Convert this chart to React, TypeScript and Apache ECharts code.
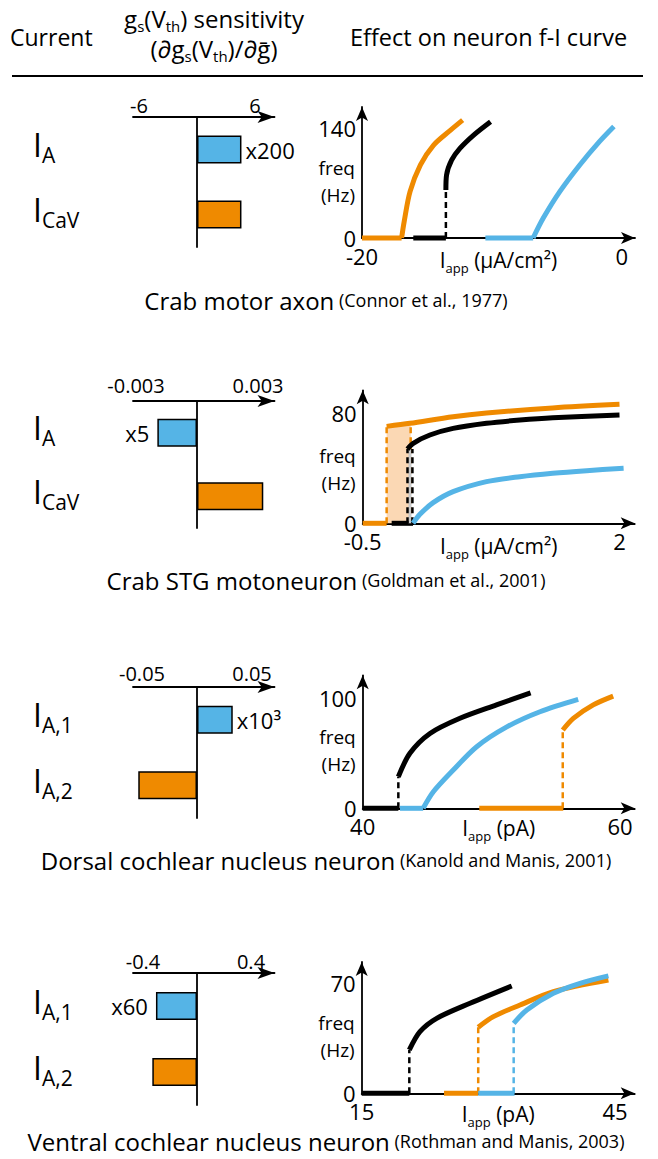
import React, { useEffect, useRef } from 'react';
import * as echarts from 'echarts';

const FONT = '"Open Sans", "Noto Sans", "DejaVu Sans", sans-serif';
const ORANGE = '#EF8A00';
const BLUE = '#55B4E6';
const BLACK = '#000000';
const SHADE = '#FBD8B4';
const GREY = '#C8C8C8';

// ---------- texts ----------
const headerCurrent = 'Current';
const headerEffect = 'Effect on neuron f-I curve';
const panelTitles = ['Crab motor axon', 'Crab STG motoneuron', 'Dorsal cochlear nucleus neuron', 'Ventral cochlear nucleus neuron'];
const panelRefs = ['(Connor et al., 1977)', '(Goldman et al., 2001)', '(Kanold and Manis, 2001)', '(Rothman and Manis, 2003)'];

// ---------- sensitivity bars ----------
const currentSubs = [['A', 'CaV'], ['A', 'CaV'], ['A,1', 'A,2'], ['A,1', 'A,2']];
const sensTicks = [6, 0.003, 0.05, 0.4];
const sensTickLabels = [['-6', '6'], ['-0.003', '0.003'], ['-0.05', '0.05'], ['-0.4', '0.4']];
const sensP1 = [4.6, 4.6];
const sensP2 = [-0.00195, 0.00326];
const sensP3 = [0.0325, -0.0534];
const sensP4 = [-0.304, -0.331];
const sensValues = [sensP1, sensP2, sensP3, sensP4];
const scaleNotes = ['x200', 'x5', 'x10³', 'x60'];

// ---------- f-I axes ----------
const fiXTicks = [[-20, 0], [-0.5, 2], [40, 60], [15, 45]];
const fiYTicks = [140, 80, 100, 70];
const fiXNames = ['(µA/cm²)', '(µA/cm²)', '(pA)', '(pA)'];
const fiYName = ['freq', '(Hz)'];

// ---------- f-I curves ----------
// panel 1: crab motor axon
const p1OrangeFlat = [-20, -16.95];
const p1OrangeCurve = [[-16.95, 0], [-16.75, 21], [-16.3, 59], [-15.5, 93], [-14.5, 118], [-13.2, 137], [-12.25, 150]];
const p1BlackFlat = [-16.05, -13.54];
const p1BlackJump = [-13.54, 61];
const p1BlackCurve = [[-13.54, 61], [-13.49, 80], [-13.1, 99], [-12.46, 114], [-11.4, 131], [-10.1, 148]];
const p1BlueFlat = [-10.5, -6.82];
const p1BlueCurve = [[-6.82, 0], [-6.05, 25], [-4.77, 59], [-3.23, 93], [-1.7, 123], [-0.6, 142]];

// panel 2: crab STG motoneuron
const p2Shade = [[-0.267, 70.5], [-0.033, 72.8]];
const p2OrangeFlat = [-0.5, -0.267];
const p2OrangeJump = [-0.267, 70.5];
const p2OrangeJump2 = [-0.033, 72.8];
const p2OrangeCurve = [[-0.267, 70.5], [-0.04, 72.7], [0.38, 77.5], [0.705, 80.2], [1.35, 83.9], [2.0, 86.5]];
const p2BlackFlat = [-0.218, -0.01];
const p2GreyJump = [-0.04, 54];
const p2BlackJumpA = [-0.064, 54];
const p2BlackJumpB = [-0.016, 54];
const p2BlackCurve = [[-0.064, 54], [-0.008, 58.2], [0.154, 64.2], [0.38, 69], [0.705, 72.7], [1.03, 75.1], [1.35, 76.8], [2.0, 78.8]];
const p2BlueCurve = [[-0.01, 0], [0.057, 6.5], [0.186, 15], [0.38, 23], [0.705, 30.3], [1.03, 33.9], [1.35, 36.4], [1.68, 38.3], [2.04, 40]];

// panel 3: dorsal cochlear nucleus
const p3BlackFlat = [40, 42.77];
const p3BlackJump = [42.77, 28.7];
const p3BlackCurve = [[42.77, 28.7], [43.67, 50], [45.23, 68], [47.56, 81.8], [50.4, 94], [53.05, 105]];
const p3BlueFlat = [42.9, 44.7];
const p3BlueCurve = [[44.7, 0], [45.49, 15], [47.04, 34.8], [48.86, 56], [51.2, 74], [53.78, 87.8], [56.75, 99]];
const p3OrangeFlat = [49.06, 55.59];
const p3OrangeJump = [55.55, 71.2];
const p3OrangeCurve = [[55.55, 71.2], [56.37, 81.8], [57.92, 94], [59.47, 102]];

// panel 4: ventral cochlear nucleus
const p4BlackFlat = [15, 20.64];
const p4BlackJump = [20.64, 27.6];
const p4BlackCurve = [[20.64, 27.6], [21.9, 39.2], [23.88, 47.7], [27.83, 57.3], [32.77, 68.3]];
const p4OrangeFlat = [24.75, 28.8];
const p4OrangeJump = [28.8, 42];
const p4OrangeCurve = [[28.8, 42], [30.6, 48.8], [33.75, 56.2], [37.7, 64.7], [44.22, 72]];
const p4BlueFlat = [28.8, 33.1];
const p4BlueJump = [33.0, 44.5];
const p4BlueCurve = [[33.0, 44.5], [34.55, 53], [37.7, 63.6], [40.86, 70], [44.22, 74.7]];

// ---------- layout (pixels) ----------
const BAR_ZERO_X = 197;
const BAR_LEFT = 133;
const BAR_RIGHT = 274.5;
const ROW_LABEL_X = 33;
const barLayouts = [
  { axisY: 117, bottom: 247, tickPx: 58, labelMargin: 4 },
  { axisY: 401, bottom: 528, tickPx: 61, labelMargin: 8 },
  { axisY: 687, bottom: 818, tickPx: 55, labelMargin: 6 },
  { axisY: 973, bottom: 1105, tickPx: 54, labelMargin: 4 },
];
const fiLayouts = [
  { left: 362, axisY: 238, top: 107, right: 635, xTickPx: 621.7, yTickPx: 128, nameGap: 15, yNameShift: 18 },
  { left: 362.7, axisY: 523.3, top: 390.3, right: 634.7, xTickPx: 619.5, yTickPx: 413.3, nameGap: 16, yNameShift: 25 },
  { left: 362.7, axisY: 808.3, top: 675.3, right: 634.7, xTickPx: 620, yTickPx: 698.3, nameGap: 13, yNameShift: 18 },
  { left: 361.7, axisY: 1093.3, top: 962, right: 634.7, xTickPx: 615, yTickPx: 983.3, nameGap: 14, yNameShift: 18 },
];
const captionY = [300, 580, 860, 1141];

const flat = (r: number[]) => [[r[0], 0], [r[1], 0]];
const jump = (p: number[]) => [[p[0], 0], [p[0], p[1]]];

type Seg = { data: number[][]; color: string; kind: 'solid' | 'curve' | 'dashed' | 'area' | 'grey' };
const seg = (data: number[][], color: string, kind: Seg['kind']): Seg => ({ data, color, kind });

const panelSegs: Seg[][] = [
  [
    seg(flat(p1OrangeFlat), ORANGE, 'solid'),
    seg(p1OrangeCurve, ORANGE, 'curve'),
    seg(flat(p1BlackFlat), BLACK, 'solid'),
    seg(jump(p1BlackJump), BLACK, 'dashed'),
    seg(p1BlackCurve, BLACK, 'curve'),
    seg(flat(p1BlueFlat), BLUE, 'solid'),
    seg(p1BlueCurve, BLUE, 'curve'),
  ],
  [
    seg(p2Shade, SHADE, 'area'),
    seg(flat(p2OrangeFlat), ORANGE, 'solid'),
    seg(jump(p2OrangeJump), ORANGE, 'dashed'),
    seg(jump(p2OrangeJump2), ORANGE, 'dashed'),
    seg(p2OrangeCurve, ORANGE, 'curve'),
    seg(flat(p2BlackFlat), BLACK, 'solid'),
    seg(jump(p2GreyJump), GREY, 'grey'),
    seg(jump(p2BlackJumpA), BLACK, 'dashed'),
    seg(jump(p2BlackJumpB), BLACK, 'dashed'),
    seg(p2BlackCurve, BLACK, 'curve'),
    seg(p2BlueCurve, BLUE, 'curve'),
  ],
  [
    seg(flat(p3BlackFlat), BLACK, 'solid'),
    seg(jump(p3BlackJump), BLACK, 'dashed'),
    seg(p3BlackCurve, BLACK, 'curve'),
    seg(flat(p3BlueFlat), BLUE, 'solid'),
    seg(p3BlueCurve, BLUE, 'curve'),
    seg(flat(p3OrangeFlat), ORANGE, 'solid'),
    seg(jump(p3OrangeJump), ORANGE, 'dashed'),
    seg(p3OrangeCurve, ORANGE, 'curve'),
  ],
  [
    seg(flat(p4BlackFlat), BLACK, 'solid'),
    seg(jump(p4BlackJump), BLACK, 'dashed'),
    seg(p4BlackCurve, BLACK, 'curve'),
    seg(flat(p4OrangeFlat), ORANGE, 'solid'),
    seg(jump(p4OrangeJump), ORANGE, 'dashed'),
    seg(p4OrangeCurve, ORANGE, 'curve'),
    seg(flat(p4BlueFlat), BLUE, 'solid'),
    seg(jump(p4BlueJump), BLUE, 'dashed'),
    seg(p4BlueCurve, BLUE, 'curve'),
  ],
];

function buildOption() {
  const grid: any[] = [];
  const xAxis: any[] = [];
  const yAxis: any[] = [];
  const series: any[] = [];
  const axisLineStyle = { color: '#000', width: 1.8 };

  // bar panels: axis index 0..3
  barLayouts.forEach((L, i) => {
    const T = sensTicks[i];
    const unit = T / L.tickPx;
    grid.push({ left: BAR_LEFT, top: L.axisY, width: BAR_RIGHT - BAR_LEFT, height: L.bottom - L.axisY, containLabel: false, outerBoundsMode: 'none' });
    xAxis.push({
      type: 'value', gridIndex: i, position: 'top',
      min: -(BAR_ZERO_X - BAR_LEFT) * unit, max: (BAR_RIGHT - BAR_ZERO_X) * unit,
      axisLine: { show: true, onZero: false, symbol: ['none', 'arrow'], symbolSize: [9, 17], lineStyle: axisLineStyle },
      axisTick: { show: false }, splitLine: { show: false },
      axisLabel: {
        customValues: [-T, T], margin: L.labelMargin, fontSize: 20, lineHeight: 16, color: '#000', fontFamily: FONT,
        formatter: (v: number) => (v < 0 ? sensTickLabels[i][0] : sensTickLabels[i][1]),
      },
    });
    yAxis.push({
      type: 'category', gridIndex: i, inverse: true, data: currentSubs[i],
      axisLine: { show: true, onZero: true, lineStyle: axisLineStyle },
      axisTick: { show: false }, splitLine: { show: false },
      axisLabel: {
        interval: 0, align: 'left', margin: BAR_LEFT - ROW_LABEL_X,
        formatter: (v: string) => `{i|I}{s|${v}}`,
        rich: {
          i: { fontSize: 32, lineHeight: 32, fontFamily: FONT, color: '#000', padding: [0, 0, 10, 0] },
          s: { fontSize: 21, lineHeight: 21, fontFamily: FONT, color: '#000', verticalAlign: 'bottom' },
        },
      },
    });
    const side = sensValues[i][0] < 0 ? 'left' : 'right';
    series.push({
      type: 'bar', xAxisIndex: i, yAxisIndex: i, barWidth: 28,
      data: sensValues[i].map((v, j) => ({
        value: v,
        itemStyle: { color: j === 0 ? BLUE : ORANGE, borderColor: '#000', borderWidth: 1.5 },
        label: j === 0
          ? { show: true, position: side, distance: side === 'left' ? 8 : 4, formatter: scaleNotes[i], fontSize: 22, color: '#000', fontFamily: FONT }
          : { show: false },
      })),
    });
  });

  // f-I panels: axis index 4..7
  fiLayouts.forEach((L, i) => {
    const k = 4 + i;
    const [xmin, xtick] = fiXTicks[i];
    const unitX = (xtick - xmin) / (L.xTickPx - L.left);
    const xmax = xmin + (L.right - L.left) * unitX;
    const ytick = fiYTicks[i];
    const unitY = ytick / (L.axisY - L.yTickPx);
    const ymax = (L.axisY - L.top) * unitY;
    grid.push({ left: L.left, top: L.top, width: L.right - L.left, height: L.axisY - L.top, containLabel: false, outerBoundsMode: 'none' });
    xAxis.push({
      type: 'value', gridIndex: k, min: xmin, max: xmax,
      axisLine: { show: true, onZero: false, symbol: ['none', 'arrow'], symbolSize: [9, 14], lineStyle: axisLineStyle },
      axisTick: { show: false }, splitLine: { show: false },
      axisLabel: { customValues: [xmin, xtick], margin: 9, fontSize: 22, lineHeight: 17, color: '#000', fontFamily: FONT, formatter: (v: number) => String(v) },
      name: `{i|I}{s|app}{i| ${fiXNames[i]}}`,
      nameLocation: 'middle', nameGap: L.nameGap, nameMoveOverlap: false,
      nameTextStyle: {
        rich: {
          i: { fontSize: 21, lineHeight: 21, fontFamily: FONT, color: '#000', padding: [0, 0, 7, 0] },
          s: { fontSize: 13, lineHeight: 13, fontFamily: FONT, color: '#000', verticalAlign: 'bottom' },
        },
      },
    });
    yAxis.push({
      type: 'value', gridIndex: k, min: 0, max: ymax,
      axisLine: { show: true, onZero: false, symbol: ['none', 'arrow'], symbolSize: [9, 14], lineStyle: axisLineStyle },
      axisTick: { show: false }, splitLine: { show: false },
      axisLabel: { customValues: [0, ytick], margin: 6, fontSize: 22, lineHeight: 17, color: '#000', fontFamily: FONT, formatter: (v: number) => String(v) },
      name: `{g| }\n{f|${fiYName[0]}}\n{f|${fiYName[1]}}`,
      nameLocation: 'middle', nameRotate: 0, nameGap: 7, nameMoveOverlap: false,
      nameTextStyle: {
        align: 'right',
        rich: {
          g: { fontSize: 2, lineHeight: L.yNameShift, color: '#fff' },
          f: { fontSize: 19, lineHeight: 27, fontFamily: FONT, color: '#000' },
        },
      },
    });
    panelSegs[i].forEach((s) => {
      const base: any = {
        type: 'line', xAxisIndex: k, yAxisIndex: k, data: s.data, symbol: 'none', clip: false,
        lineStyle: { color: s.color, width: 5, cap: 'butt' },
      };
      if (s.kind === 'curve') base.smooth = 0.3;
      if (s.kind === 'dashed') base.lineStyle = { color: s.color, width: 2.5, type: [6, 4] };
      if (s.kind === 'grey') base.lineStyle = { color: s.color, width: 3 };
      if (s.kind === 'area') {
        base.lineStyle = { width: 0, color: s.color };
        base.areaStyle = { color: s.color, opacity: 1 };
      }
      series.push(base);
    });
  });

  const subRich = (main: number, sub: number, pad: number) => ({
    m: { fontSize: main, lineHeight: main, fontFamily: FONT, fill: '#000', padding: [0, 0, pad, 0] },
    s: { fontSize: sub, lineHeight: sub, fontFamily: FONT, fill: '#000', verticalAlign: 'bottom' },
  });

  const graphic: any[] = [
    { type: 'text', x: 10, y: 37, style: { text: headerCurrent, fontSize: 23, fontFamily: FONT, fill: '#000', align: 'left', verticalAlign: 'middle' } },
    { type: 'text', x: 214, y: 21, style: { text: '{m|g}{s|s}{m|(V}{s|th}{m|) sensitivity}', rich: subRich(24, 15, 5), align: 'center', verticalAlign: 'middle' } },
    { type: 'text', x: 214, y: 51, style: { text: '{m|(∂g}{s|s}{m|(V}{s|th}{m|)/∂ḡ)}', rich: subRich(24, 15, 5), align: 'center', verticalAlign: 'middle' } },
    { type: 'text', x: 350, y: 37, style: { text: headerEffect, fontSize: 23.5, fontFamily: FONT, fill: '#000', align: 'left', verticalAlign: 'middle' } },
    { type: 'line', shape: { x1: 12, y1: 76, x2: 643, y2: 76 }, style: { stroke: '#000', lineWidth: 2 } },
  ];
  panelTitles.forEach((t, i) => {
    graphic.push({
      type: 'text', x: 326, y: captionY[i],
      style: {
        text: `{a|${t}}{b| ${panelRefs[i]}}`, align: 'center', verticalAlign: 'middle',
        rich: {
          a: { fontSize: 24, lineHeight: 20, fontFamily: FONT, fill: '#000' },
          b: { fontSize: 18, lineHeight: 20, fontFamily: FONT, fill: '#000' },
        },
      },
    });
  });

  return { animation: false, backgroundColor: '#fff', grid, xAxis, yAxis, series, graphic };
}

export default function App() {
  const ref = useRef<HTMLDivElement>(null);
  useEffect(() => {
    if (!ref.current) return;
    const chart = echarts.init(ref.current, null, { renderer: 'svg', width: 658, height: 1159 });
    chart.setOption(buildOption() as any);
    return () => chart.dispose();
  }, []);
  return <div ref={ref} style={{ position: 'absolute', left: 0, top: 0, width: 658, height: 1159, background: '#fff' }} />;
}
